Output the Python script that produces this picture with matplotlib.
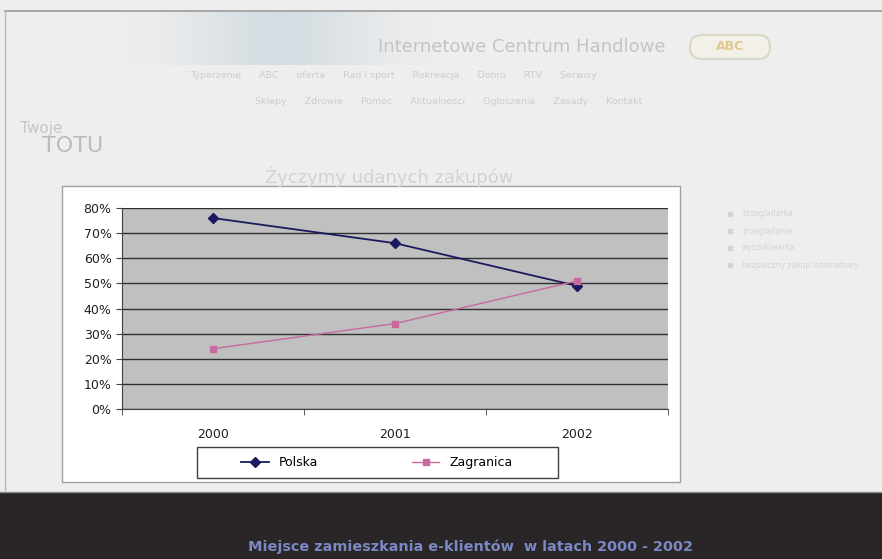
import matplotlib
matplotlib.use("Agg")
import matplotlib.pyplot as plt
from matplotlib.patches import Rectangle, FancyBboxPatch
import numpy as np

years = ["2000", "2001", "2002"]
polska = [76, 66, 49]
zagranica = [24, 34, 51]
yticks = [0, 10, 20, 30, 40, 50, 60, 70, 80]
caption = "Miejsce zamieszkania e-klientów  w latach 2000 - 2002"

W, H = 882, 559
fig = plt.figure(figsize=(W / 100, H / 100), dpi=100)
fig.patch.set_facecolor("#eeeeee")

def fx(x):
    return x / W

def fy(y):
    return 1 - y / H

# faded website background
bg = fig.add_axes([0, 0, 1, 1])
bg.set_xlim(0, W)
bg.set_ylim(H, 0)
bg.axis("off")
grad = np.linspace(0, 1, 300)
band = np.exp(-((grad - 0.5) / 0.3) ** 2)
img = np.ones((10, 300, 3))
for i, c in enumerate([0.84, 0.87, 0.89]):
    img[:, :, i] = 0.935 - (0.935 - c) * band
bg.imshow(img, extent=[120, 440, 65, 12], aspect="auto", zorder=0)
bg.plot([5, W], [11, 11], color="#9a9a9a", lw=1.2)
bg.plot([5, 5], [11, 490], color="#b8b8b8", lw=1.0)
bg.text(378, 47, "Internetowe Centrum Handlowe", fontsize=13, color="#c4c4c4",
        va="center", ha="left", family="Liberation Sans Narrow")
bg.add_patch(FancyBboxPatch((690, 35), 80, 24, boxstyle="round,pad=0,rounding_size=12",
                            fc="#f2f0e8", ec="#d8d8c8", lw=1.5))
bg.text(730, 47, "ABC", fontsize=9, color="#e0c890", ha="center", va="center", fontweight="bold")
bg.text(190, 75, "Typerzenie      ABC      oferta      Rad i sport      Rekreacja      Dobro      RTV      Serwisy",
        fontsize=6.8, color="#cccccc", va="center")
bg.text(255, 101, "Sklepy      Zdrowie      Pomoc      Aktualnosci      Ogloszenia      Zasady      Kontakt",
        fontsize=6.8, color="#cccccc", va="center")
bg.text(20, 128, "Twoje", fontsize=11, color="#c6c6c6", va="center")
bg.text(42, 146, "TOTU", fontsize=16, color="#bcbcbc", va="center", family="Liberation Sans Narrow")
bg.text(265, 177, "Życzymy udanych zakupów", fontsize=13, color="#d2d2d2", va="center",
        family="Liberation Sans Narrow")
for i, t in enumerate(["przeglądarka", "przeglądanie", "wyszukiwarka", "bezpieczny zakup internetowy"]):
    bg.plot(730, 214 + 17 * i, "s", ms=2.5, color="#d4d4d4")
    bg.text(742, 214 + 17 * i, t, fontsize=5.5, color="#d4d4d4", va="center")

# dark footer
bg.add_patch(Rectangle((0, 492), W, H - 492, fc="#2a2628", ec="none", zorder=1))
bg.plot([0, W], [492, 492], color="#8a8a8a", lw=1.0, zorder=2)
bg.text(470, 547, caption, fontsize=10.4, color="#7a88c4", fontweight="bold",
        ha="center", va="center", zorder=3)

# white chart box
bg.add_patch(Rectangle((62, 186), 618, 296, fc="white", ec="#a0a0a0", lw=1.0, zorder=1))
# legend frame
bg.add_patch(Rectangle((197, 447), 361, 31, fc="white", ec="#404040", lw=1.0, zorder=2))

# plot area
ax = fig.add_axes([fx(122), fy(409), fx(668) - fx(122), fy(208) - fy(409)])
ax.set_facecolor("#c0c0c0")
x = np.arange(len(years))
ax.set_xlim(-0.5, len(years) - 0.5)
ax.set_ylim(0, 80)
ax.set_yticks(yticks)
ax.set_yticklabels([f"{v}%" for v in yticks])
ax.yaxis.grid(True, color="#303030", lw=1.0)
ax.set_axisbelow(True)
ax.set_xticks(x)
ax.set_xticklabels(years)
ax.set_xticks(np.arange(-0.5, len(years), 1.0), minor=True)
ax.tick_params(axis="x", which="major", length=0, pad=14, labelsize=9, colors="#202020")
ax.tick_params(axis="x", which="minor", length=4, color="#404040")
ax.tick_params(axis="y", length=4, color="#404040", labelsize=9, labelcolor="#202020")
for s in ["top", "right"]:
    ax.spines[s].set_visible(False)
ax.spines["left"].set_color("#404040")
ax.spines["bottom"].set_color("#404040")

l1, = ax.plot(x, polska, color="#1a1a60", marker="D", ms=5, lw=1.3, label="Polska")
l2, = ax.plot(x, zagranica, color="#c86aa0", marker="s", ms=5, lw=1.0, label="Zagranica")

leg = fig.legend(handles=[l1, l2], ncol=2, loc="center",
                 bbox_to_anchor=(fx(377), fy(462.5)),
                 frameon=False, fontsize=9, handlelength=2.2, borderaxespad=0,
                 columnspacing=7.5)

fig.savefig("out.png", dpi=100, facecolor=fig.get_facecolor())
